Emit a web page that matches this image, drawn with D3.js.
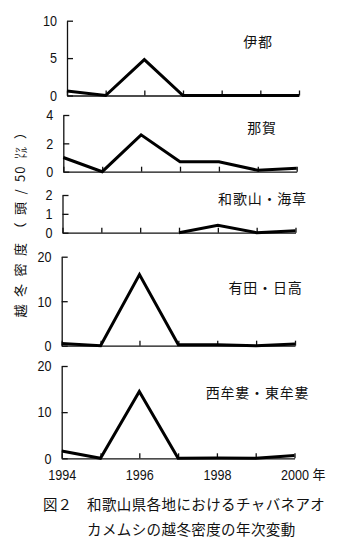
<!DOCTYPE html>
<html><head><meta charset="utf-8">
<script src="https://cdn.jsdelivr.net/npm/d3@7"></script>
<style>
html,body{margin:0;padding:0;background:#fff;}
svg{display:block;}
.num{font-family:"Liberation Sans Narrow","Arial Narrow","Liberation Sans",sans-serif;font-size:15px;fill:#111;}
.jp{font-family:"Noto Sans CJK JP",sans-serif;fill:#111;}
</style></head>
<body>
<svg id="c" width="340" height="547"></svg>
<script>
// ---- data ----
const years = [1994, 1995, 1996, 1997, 1998, 1999, 2000];
const regionNames = ["伊都", "那賀", "和歌山・海草", "有田・日高", "西牟婁・東牟婁"];
const itoValues = [0.6, 0, 4.8, 0, 0, 0, 0];
const nagaValues = [1.0, 0, 2.6, 0.7, 0.7, 0.1, 0.25];
const wakayamaKaisouValues = [null, null, null, 0, 0.4, 0, 0.1];
const aridaHidakaValues = [0.5, 0, 16, 0.2, 0.2, 0, 0.4];
const murouValues = [1.6, 0, 14.5, 0, 0.05, 0, 0.6];
const yMaxes = [10, 4, 2, 20, 20];
const yTickValues = [[0, 5, 10], [0, 2, 4], [0, 1, 2], [0, 10, 20], [0, 10, 20]];
const xTickLabels = [1994, 1996, 1998, 2000];
const yTitleParts = ["越冬密度（頭/", "50", "㍑）"];
const captionLines = ["和歌山県各地におけるチャバネアオ", "カメムシの越冬密度の年次変動"];

const seriesList = [itoValues, nagaValues, wakayamaKaisouValues, aridaHidakaValues, murouValues];

// ---- layout (positions only) ----
const layout = [
  {x0: 67, x1: 299, yTop: 20.7, yBot: 95.5, tx: 258, ty: 47},
  {x0: 63.3, x1: 296.7, yTop: 115, yBot: 171.7, tx: 262, ty: 133},
  {x0: 62.5, x1: 295.5, yTop: 195, yBot: 232.7, tx: 262.5, ty: 204},
  {x0: 61.7, x1: 295, yTop: 256.7, yBot: 345.7, tx: 265.5, ty: 293},
  {x0: 61.7, x1: 294.5, yTop: 366, yBot: 458.3, tx: 257.5, ty: 398}
];
const narrow = 0.84;

const svg = d3.select("#c");
svg.append("rect").attr("width", 340).attr("height", 547).attr("fill", "#fff");

seriesList.forEach((vals, i) => {
  const L = layout[i];
  const x = d3.scaleLinear().domain([years[0], years[years.length - 1]]).range([L.x0, L.x1]);
  const y = d3.scaleLinear().domain([0, yMaxes[i]]).range([L.yBot, L.yTop]);
  const g = svg.append("g");

  // y axis
  const ya = g.append("g").attr("transform", `translate(${L.x0},0)`)
    .call(d3.axisLeft(y).tickValues(yTickValues[i]).tickFormat(d3.format("d"))
      .tickSize(-6).tickSizeOuter(0).tickPadding(12));
  ya.selectAll("text").attr("class", "num").attr("fill", null).attr("font-family", null).attr("font-size", null)
    .attr("transform", `scale(${narrow},1)`);
  ya.selectAll("path,line").attr("stroke", "#111").attr("stroke-width", 1.3);

  // x axis
  const isLast = i === seriesList.length - 1;
  const xa = g.append("g").attr("transform", `translate(0,${L.yBot})`)
    .call(d3.axisBottom(x).tickValues(years).tickSize(-5).tickSizeOuter(0).tickPadding(11)
      .tickFormat(d => (isLast && xTickLabels.includes(d)) ? String(d) : ""));
  xa.selectAll("text").attr("class", "num").attr("fill", null).attr("font-family", null).attr("font-size", null)
    .attr("transform", `scale(${narrow},1)`);
  xa.selectAll("path,line").attr("stroke", "#111").attr("stroke-width", 1.3);
  if (isLast) {
    g.append("text").attr("class", "jp").attr("font-size", 13)
      .attr("x", x(years[years.length - 1]) + 18).attr("y", L.yBot + 21).text("年");
  }

  // data line
  const line = d3.line().defined(d => d[1] != null).x(d => x(d[0])).y(d => y(d[1]));
  g.append("path").datum(years.map((yr, k) => [yr, vals[k]]))
    .attr("d", line).attr("fill", "none").attr("stroke", "#000")
    .attr("stroke-width", 3).attr("stroke-linejoin", "miter");

  // region name
  g.append("text").attr("class", "jp").attr("font-size", 14).attr("letter-spacing", 0.8)
    .attr("text-anchor", "middle").attr("x", L.tx).attr("y", L.ty).text(regionNames[i]);
});

// y title
const yt = svg.append("text").attr("class", "jp").attr("font-size", 13)
  .attr("text-anchor", "middle")
  .attr("transform", "translate(25,218) rotate(-90)");
yt.append("tspan").attr("letter-spacing", 7.5).text(yTitleParts[0]);
yt.append("tspan").attr("letter-spacing", 1).text(yTitleParts[1]);
yt.append("tspan").attr("letter-spacing", 7.5).attr("dx", 6).text(yTitleParts[2]);

// caption
svg.append("text").attr("class", "jp").attr("font-size", 14.5).attr("x", 43).attr("y", 510).text("図２");
captionLines.forEach((t, k) => {
  svg.append("text").attr("class", "jp").attr("font-size", 14.5).attr("letter-spacing", 0.4)
    .attr("x", 87).attr("y", 510 + k * 25).text(t);
});
</script>
</body></html>
